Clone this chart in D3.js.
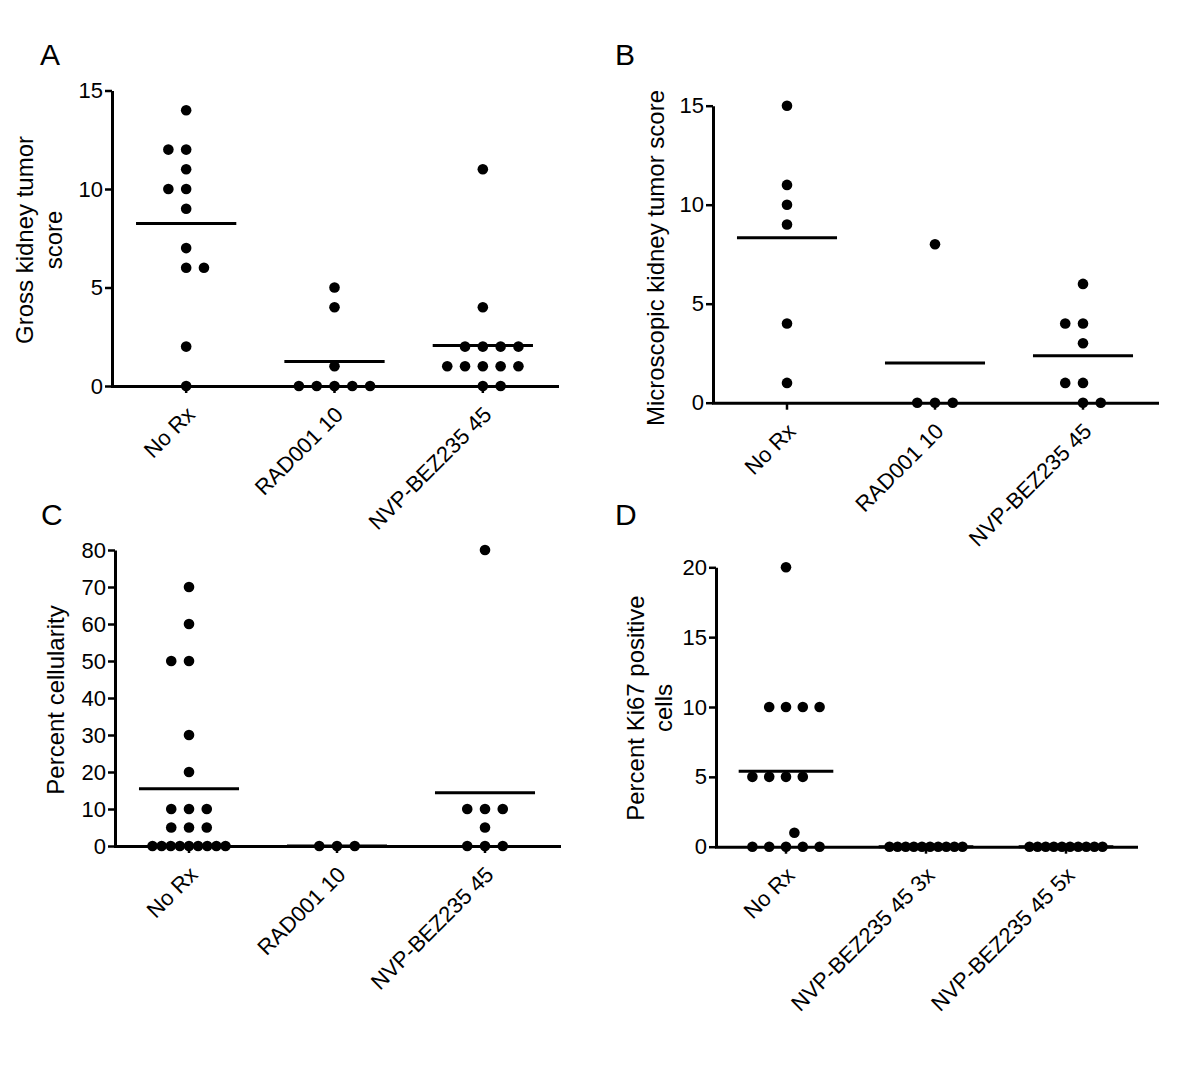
<!DOCTYPE html>
<html><head><meta charset="utf-8">
<script src="https://cdn.jsdelivr.net/npm/d3@7"></script>
<style>
body{margin:0;background:#fff}
svg{display:block;background:#fff}
text{font-family:"Liberation Sans",Arial,Helvetica,sans-serif;fill:#000}
</style>
</head><body>
<svg id="chart" width="1200" height="1068"></svg>
<script>
// ---------- DATA ----------
const categoriesABC = ["No Rx", "RAD001 10", "NVP-BEZ235 45"];
const categoriesD = ["No Rx", "NVP-BEZ235 45 3x", "NVP-BEZ235 45 5x"];

// A: Gross kidney tumor score
const grossNoRx = [14, 12, 12, 11, 10, 10, 9, 7, 6, 6, 2, 0];
const grossRAD001 = [5, 4, 1, 0, 0, 0, 0, 0];
const grossNVP = [11, 4, 2, 2, 2, 2, 1, 1, 1, 1, 1, 0, 0];
const grossMeans = [8.25, 1.25, 2.05];
const grossTicks = [0, 5, 10, 15];

// B: Microscopic kidney tumor score
const microNoRx = [15, 11, 10, 9, 4, 1];
const microRAD001 = [8, 0, 0, 0];
const microNVP = [6, 4, 4, 3, 1, 1, 0, 0];
const microMeans = [8.33, 2, 2.375];
const microTicks = [0, 5, 10, 15];

// C: Percent cellularity
const cellNoRx = [70, 60, 50, 50, 30, 20, 10, 10, 10, 5, 5, 5, 0, 0, 0, 0, 0, 0, 0, 0, 0];
const cellRAD001 = [0, 0, 0];
const cellNVP = [80, 10, 10, 10, 5, 0, 0, 0];
const cellMeans = [15.48, 0, 14.375];
const cellTicks = [0, 10, 20, 30, 40, 50, 60, 70, 80];

// D: Percent Ki67 positive cells
const ki67NoRx = [20, 10, 10, 10, 10, 5, 5, 5, 5, 1, 0, 0, 0, 0, 0];
const ki67NVP3x = [0, 0, 0, 0, 0, 0, 0, 0, 0, 0];
const ki67NVP5x = [0, 0, 0, 0, 0, 0, 0, 0, 0, 0];
const ki67Means = [5.4, 0, 0];
const ki67Ticks = [0, 5, 10, 15, 20];

// ---------- LAYOUT ----------
const FONT = '"Liberation Sans", Arial, Helvetica, sans-serif';
const panels = [
  {letter: "A", lx: 40, ly: 65, cats: categoriesABC, groups: [grossNoRx, grossRAD001, grossNVP], means: grossMeans,
   ticks: grossTicks, ymax: 15, x0: 112, x1: 557, yB: 386, yT: 90.5,
   title: ["Gross kidney tumor", "score"], tx: [33, 62], ty: 240},
  {letter: "B", lx: 615, ly: 65, cats: categoriesABC, groups: [microNoRx, microRAD001, microNVP], means: microMeans,
   ticks: microTicks, ymax: 15, x0: 713, x1: 1157, yB: 402.7, yT: 105.7,
   title: ["Microscopic kidney tumor score"], tx: [664], ty: 258},
  {letter: "C", lx: 41, ly: 525, cats: categoriesABC, groups: [cellNoRx, cellRAD001, cellNVP], means: cellMeans,
   ticks: cellTicks, ymax: 80, x0: 115, x1: 559, yB: 846, yT: 550,
   title: ["Percent cellularity"], tx: [64], ty: 700},
  {letter: "D", lx: 615, ly: 525, cats: categoriesD, groups: [ki67NoRx, ki67NVP3x, ki67NVP5x], means: ki67Means,
   ticks: ki67Ticks, ymax: 20, x0: 716, x1: 1136, yB: 846.7, yT: 567.3,
   title: ["Percent Ki67 positive", "cells"], tx: [644, 672], ty: 708}
];

const svg = d3.select("#chart");
svg.append("rect").attr("width", 1200).attr("height", 1068).attr("fill", "#fff");

// GraphPad-like scatter layout of one column
function layoutColumn(values, cx, y, step) {
  const base = step * 0.12, maxSpan = 73;
  const rows = d3.rollups(values, v => v.length, d => d).sort((a, b) => a[0] - b[0]);
  const pts = [];
  let rowIndex = -1, prevY = null;
  rows.forEach(([v, k]) => {
    const yy = y(v);
    let extra = 0;
    if (prevY !== null && Math.abs(prevY - yy) < base) { extra = 0.5; }
    else { rowIndex++; prevY = yy; }
    const sp = k > 1 ? Math.min(base, maxSpan / (k - 1)) : base;
    for (let i = 0; i < k; i++) {
      let slot;
      if (k % 2 === 1 || sp < base) slot = i - (k - 1) / 2;
      else slot = -(k / 2) + (rowIndex % 2 === 0 ? 1 : 0) + i;
      pts.push({v, x: cx + (slot + extra) * sp, y: yy});
    }
  });
  return pts;
}

panels.forEach(p => {
  const g = svg.append("g");
  const x = d3.scaleBand().domain(p.cats).range([p.x0, p.x1]);
  const y = d3.scaleLinear().domain([0, p.ymax]).range([p.yB, p.yT]);
  const step = x.step();

  // panel letter
  g.append("text").attr("x", p.lx).attr("y", p.ly).attr("font-size", 30).text(p.letter);

  // y title
  p.title.forEach((t, i) => {
    g.append("text").attr("transform", `translate(${p.tx[i]},${p.ty}) rotate(-90)`)
      .attr("text-anchor", "middle").attr("font-size", 24).text(t);
  });

  // y axis
  const ya = g.append("g").attr("transform", `translate(${p.x0},0)`)
    .call(d3.axisLeft(y).tickValues(p.ticks).tickSize(7).tickSizeOuter(0).tickPadding(2).tickFormat(d3.format("d")))
    .attr("font-family", FONT).attr("font-size", 22);
  ya.select(".domain").attr("stroke", "#000").attr("stroke-width", 3);
  ya.selectAll(".tick line").attr("stroke", "#000").attr("stroke-width", 2.5);
  ya.selectAll(".tick text").attr("fill", "#000");

  // x axis
  const xa = g.append("g").attr("transform", `translate(0,${p.yB})`)
    .call(d3.axisBottom(x).tickSize(7).tickSizeOuter(0))
    .attr("font-family", FONT).attr("font-size", 22);
  xa.select(".domain").attr("stroke", "#000").attr("stroke-width", 3).attr("stroke-linecap", "square");
  xa.selectAll(".tick line").attr("stroke", "#000").attr("stroke-width", 2.5);
  xa.selectAll(".tick text").attr("x", 0).attr("y", 0).attr("dy", 0)
    .attr("text-anchor", "end").attr("fill", "#000")
    .attr("transform", "translate(10,30) rotate(-45)");

  // dots and mean lines
  p.groups.forEach((vals, gi) => {
    const cx = x(p.cats[gi]) + step / 2;
    const pts = layoutColumn(vals, cx, y, step);
    g.append("g").selectAll("circle").data(pts).join("circle")
      .attr("cx", d => d.x).attr("cy", d => d.y).attr("r", 5.3).attr("fill", "#000");
    const hw = step * 0.338;
    g.append("line").attr("x1", cx - hw).attr("x2", cx + hw)
      .attr("y1", y(p.means[gi])).attr("y2", y(p.means[gi]))
      .attr("stroke", "#000").attr("stroke-width", 3);
  });
});
</script>
</body></html>
